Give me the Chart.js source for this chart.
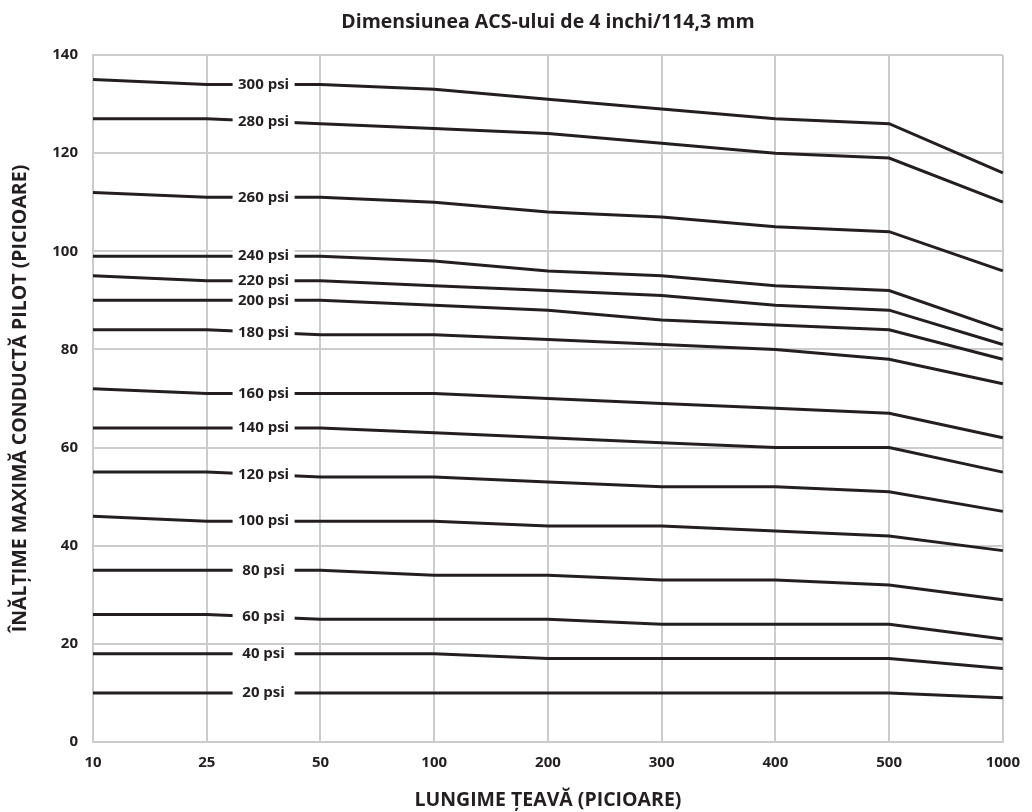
<!DOCTYPE html>
<html>
<head>
<meta charset="utf-8">
<script src="https://cdn.jsdelivr.net/npm/chart.js"></script>
<style>
	body { margin: 0; background: #fff; }
</style>
</head>
<body>
<canvas id="Grafica1" width="1032" height="812"></canvas>
<script>
const titulo = "Dimensiunea ACS-ului de 4 inchi/114,3 mm";
const tituloX = "LUNGIME ȚEAVĂ (PICIOARE)";
const tituloY = "ÎNĂLȚIME MAXIMĂ CONDUCTĂ PILOT (PICIOARE)";

// lungime teava (picioare)
const lungime = ["10", "25", "50", "100", "200", "300", "400", "500", "1000"];
const ticksY = [0, 20, 40, 60, 80, 100, 120, 140];

const psi300 = [135, 134, 134, 133, 131, 129, 127, 126, 116];
const psi280 = [127, 127, 126, 125, 124, 122, 120, 119, 110];
const psi260 = [112, 111, 111, 110, 108, 107, 105, 104, 96];
const psi240 = [99, 99, 99, 98, 96, 95, 93, 92, 84];
const psi220 = [95, 94, 94, 93, 92, 91, 89, 88, 81];
const psi200 = [90, 90, 90, 89, 88, 86, 85, 84, 78];
const psi180 = [84, 84, 83, 83, 82, 81, 80, 78, 73];
const psi160 = [72, 71, 71, 71, 70, 69, 68, 67, 62];
const psi140 = [64, 64, 64, 63, 62, 61, 60, 60, 55];
const psi120 = [55, 55, 54, 54, 53, 52, 52, 51, 47];
const psi100 = [46, 45, 45, 45, 44, 44, 43, 42, 39];
const psi80 = [35, 35, 35, 34, 34, 33, 33, 32, 29];
const psi60 = [26, 26, 25, 25, 25, 24, 24, 24, 21];
const psi40 = [18, 18, 18, 18, 17, 17, 17, 17, 15];
const psi20 = [10, 10, 10, 10, 10, 10, 10, 10, 9];

const series = [
	["300 psi", psi300], ["280 psi", psi280], ["260 psi", psi260],
	["240 psi", psi240], ["220 psi", psi220], ["200 psi", psi200],
	["180 psi", psi180], ["160 psi", psi160], ["140 psi", psi140],
	["120 psi", psi120], ["100 psi", psi100], ["80 psi", psi80],
	["60 psi", psi60], ["40 psi", psi40], ["20 psi", psi20],
];

const negru = "#231f20";
const gris = "#cccccc";
const fuente = "'Open Sans', sans-serif";

// etiquetas psi sobre las lineas + titulo centrado en el area
const etiquetas = {
	id: "etiquetas",
	afterDatasetsDraw(chart) {
		const c = chart.ctx;
		const x = chart.scales.x;
		const y = chart.scales.y;
		c.save();
		c.textAlign = "center";
		c.textBaseline = "middle";
		c.font = "bold 15px " + fuente;
		chart.data.datasets.forEach(ds => {
			let px = (x.getPixelForValue(1) + x.getPixelForValue(2)) / 2;
			let py = (y.getPixelForValue(ds.data[1]) + y.getPixelForValue(ds.data[2])) / 2;
			c.fillStyle = "#fff";
			c.fillRect(px - 31, py - 8, 62, 16);
			c.fillStyle = negru;
			c.fillText(ds.label, px, py);
		});
		c.font = "bold 19.5px " + fuente;
		c.fillStyle = negru;
		c.fillText(titulo, (chart.chartArea.left + chart.chartArea.right) / 2, 22);
		c.restore();
	}
};

const ctx = document.getElementById("Grafica1").getContext("2d");
let Grafica1 = new Chart(ctx, {
	type: "line",
	data: {
		labels: lungime,
		datasets: series.map(s => ({
			label: s[0],
			data: s[1],
			borderColor: negru,
			borderWidth: 3,
			pointRadius: 0,
			tension: 0,
			fill: false,
		})),
	},
	options: {
		responsive: false,
		animation: false,
		layout: { padding: { top: 55, right: 22, left: 0, bottom: 0 } },
		plugins: {
			legend: { display: false },
			tooltip: { enabled: false },
			title: { display: false },
		},
		scales: {
			x: {
				afterFit: s => { s.height = 70; },
				grid: { color: gris, lineWidth: 2, drawTicks: false },
				border: { color: gris, width: 2 },
				ticks: {
					color: negru,
					padding: 12,
					maxRotation: 0,
					font: { size: 15, weight: "bold", family: fuente },
				},
				title: {
					display: true,
					text: tituloX,
					color: negru,
					padding: { top: 0, bottom: 0 },
					font: { size: 19.5, weight: "bold", family: fuente },
				},
			},
			y: {
				min: 0,
				max: 140,
				afterFit: s => { s.width = 93; },
				afterBuildTicks: s => { s.ticks = ticksY.map(v => ({ value: v })); },
				grid: { color: gris, lineWidth: 2, drawTicks: false },
				border: { color: gris, width: 2 },
				ticks: {
					color: negru,
					padding: 15,
					font: { size: 15, weight: "bold", family: fuente },
				},
				title: {
					display: true,
					text: tituloY,
					color: negru,
					padding: { top: 9, bottom: 0 },
					font: { size: 19.5, weight: "bold", family: fuente },
				},
			},
		},
	},
	plugins: [etiquetas],
});
</script>
</body>
</html>
